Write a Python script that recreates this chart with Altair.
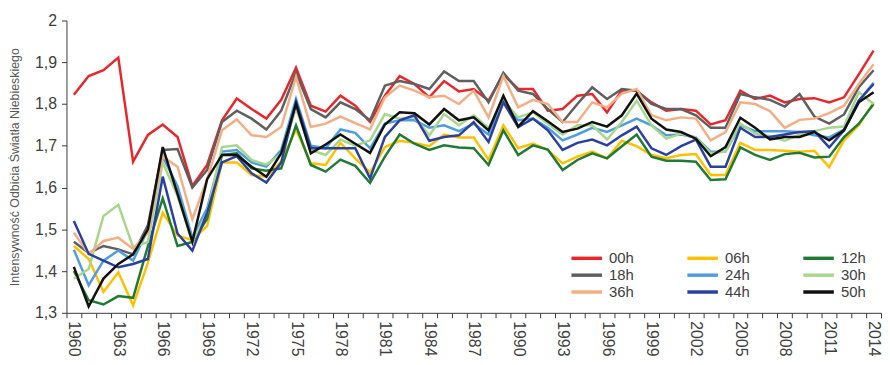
import altair as alt
import pandas as pd

years = list(range(1960, 2015))
series_names = ["00h", "06h", "12h", "18h", "24h", "30h", "36h", "44h", "50h"]
legend_order = ["00h", "18h", "36h", "06h", "24h", "44h", "12h", "30h", "50h"]
colors = ["#E8262B", "#FFC000", "#1F7A35", "#5F5F5F", "#4F9DE0",
          "#A8D68C", "#F4AE86", "#2A40A0", "#111111"]

s00 = [1.822, 1.867, 1.881, 1.911, 1.662, 1.726, 1.751, 1.721, 1.604, 1.654,
       1.761, 1.813, 1.788, 1.765, 1.81, 1.887, 1.796, 1.782, 1.82, 1.796,
       1.757, 1.82, 1.867, 1.848, 1.816, 1.855, 1.83, 1.836, 1.808, 1.871,
       1.836, 1.836, 1.784, 1.788, 1.82, 1.824, 1.78, 1.833, 1.832, 1.804,
       1.784, 1.788, 1.784, 1.751, 1.761, 1.832, 1.812, 1.82, 1.804, 1.812,
       1.814, 1.804, 1.816, 1.871, 1.928]
s06 = [1.46, 1.429, 1.35, 1.397, 1.318, 1.42, 1.54, 1.485, 1.474, 1.508,
       1.66, 1.66, 1.63, 1.626, 1.662, 1.739, 1.658, 1.654, 1.707, 1.67,
       1.636, 1.697, 1.712, 1.707, 1.699, 1.727, 1.72, 1.72, 1.666, 1.749,
       1.694, 1.705, 1.69, 1.658, 1.674, 1.686, 1.67, 1.712, 1.699, 1.678,
       1.67, 1.678, 1.68, 1.63, 1.63, 1.707, 1.69, 1.69, 1.688, 1.686,
       1.688, 1.649, 1.713, 1.749, 1.804]
s12 = [1.40, 1.33, 1.32, 1.34, 1.336, 1.46, 1.574, 1.46, 1.47, 1.525,
       1.678, 1.682, 1.646, 1.64, 1.646, 1.749, 1.654, 1.638, 1.667, 1.652,
       1.611, 1.674, 1.727, 1.705, 1.69, 1.701, 1.696, 1.694, 1.654, 1.737,
       1.678, 1.701, 1.691, 1.642, 1.666, 1.682, 1.67, 1.699, 1.727, 1.674,
       1.664, 1.664, 1.662, 1.618, 1.62, 1.696, 1.678, 1.666, 1.68, 1.683,
       1.672, 1.674, 1.721, 1.753, 1.80]
s18 = [1.47, 1.443, 1.46, 1.452, 1.44, 1.51, 1.69, 1.692, 1.60, 1.642,
       1.757, 1.784, 1.765, 1.739, 1.784, 1.875, 1.788, 1.768, 1.804, 1.788,
       1.761, 1.844, 1.855, 1.848, 1.836, 1.878, 1.855, 1.855, 1.804, 1.875,
       1.832, 1.824, 1.788, 1.757, 1.80, 1.84, 1.812, 1.836, 1.832, 1.80,
       1.788, 1.788, 1.773, 1.743, 1.743, 1.824, 1.816, 1.81, 1.794, 1.824,
       1.77, 1.753, 1.775, 1.84, 1.881]
s24 = [1.451, 1.366, 1.425, 1.449, 1.425, 1.50, 1.674, 1.603, 1.48, 1.55,
       1.686, 1.69, 1.66, 1.65, 1.69, 1.812, 1.70, 1.694, 1.739, 1.731,
       1.694, 1.753, 1.761, 1.761, 1.743, 1.749, 1.735, 1.753, 1.727, 1.808,
       1.761, 1.765, 1.743, 1.713, 1.727, 1.743, 1.733, 1.749, 1.765, 1.749,
       1.725, 1.727, 1.72, 1.686, 1.686, 1.749, 1.735, 1.735, 1.735, 1.733,
       1.725, 1.72, 1.739, 1.808, 1.851]
s30 = [1.382, 1.405, 1.532, 1.559, 1.457, 1.47, 1.66, 1.58, 1.47, 1.54,
       1.697, 1.701, 1.666, 1.655, 1.68, 1.79, 1.69, 1.678, 1.715, 1.70,
       1.713, 1.776, 1.765, 1.768, 1.725, 1.776, 1.749, 1.773, 1.743, 1.808,
       1.768, 1.78, 1.753, 1.727, 1.749, 1.749, 1.715, 1.757, 1.808, 1.749,
       1.717, 1.729, 1.72, 1.682, 1.686, 1.753, 1.729, 1.723, 1.712, 1.727,
       1.735, 1.743, 1.746, 1.828, 1.80]
s36 = [1.492, 1.441, 1.472, 1.48, 1.453, 1.492, 1.674, 1.65, 1.524, 1.62,
       1.737, 1.763, 1.725, 1.721, 1.745, 1.865, 1.745, 1.753, 1.77, 1.754,
       1.739, 1.816, 1.844, 1.832, 1.816, 1.82, 1.80, 1.832, 1.768, 1.867,
       1.792, 1.81, 1.80, 1.757, 1.757, 1.804, 1.792, 1.825, 1.836, 1.773,
       1.761, 1.768, 1.765, 1.713, 1.733, 1.804, 1.80, 1.783, 1.743, 1.762,
       1.765, 1.778, 1.796, 1.848, 1.895]
s44 = [1.52, 1.441, 1.425, 1.409, 1.417, 1.429, 1.626, 1.49, 1.449, 1.54,
       1.66, 1.675, 1.634, 1.612, 1.66, 1.805, 1.694, 1.694, 1.694, 1.694,
       1.622, 1.721, 1.761, 1.773, 1.712, 1.721, 1.725, 1.757, 1.709, 1.804,
       1.745, 1.765, 1.737, 1.69, 1.707, 1.715, 1.701, 1.725, 1.746, 1.694,
       1.678, 1.699, 1.715, 1.65, 1.65, 1.743, 1.721, 1.721, 1.727, 1.733,
       1.735, 1.696, 1.737, 1.808, 1.848]
s50 = [1.41, 1.315, 1.382, 1.417, 1.44, 1.50, 1.697, 1.585, 1.47, 1.62,
       1.678, 1.678, 1.65, 1.626, 1.682, 1.80, 1.682, 1.703, 1.727, 1.705,
       1.683, 1.751, 1.78, 1.778, 1.751, 1.788, 1.761, 1.768, 1.737, 1.82,
       1.746, 1.783, 1.759, 1.733, 1.741, 1.757, 1.746, 1.773, 1.825, 1.765,
       1.739, 1.733, 1.717, 1.675, 1.697, 1.767, 1.743, 1.715, 1.721, 1.721,
       1.733, 1.713, 1.737, 1.804, 1.828]

all_series = [s00, s06, s12, s18, s24, s30, s36, s44, s50]
y_ticks = [1.3, 1.4, 1.5, 1.6, 1.7, 1.8, 1.9, 2.0]
label_years = list(range(1960, 2015, 3))
boundaries = [1959.5 + i for i in range(56)]
x_values = sorted(boundaries + label_years)

rows = []
for name, vals in zip(series_names, all_series):
    for yr, v in zip(years, vals):
        rows.append({"year": yr, "value": v, "series": name})
df = pd.DataFrame(rows)

FONT = "Liberation Sans"
TXT = "#404040"
AX = "#3a3a3a"

chart = alt.Chart(df).mark_line(strokeWidth=2.5).encode(
    x=alt.X("year:Q",
            scale=alt.Scale(domain=[1959.5, 2014.5], nice=False, zero=False),
            axis=alt.Axis(values=x_values, title=None, grid=False,
                          labelExpr="datum.value % 1 == 0 ? toString(datum.value) : ''",
                          tickOpacity={"condition": {"test": "datum.value % 1 == 0", "value": 0}, "value": 1},
                          labelAngle=90, labelAlign="left", labelBaseline="middle",
                          tickSize=5, labelPadding=3, labelOverlap=False, labelFlush=False,
                          domainColor=AX, tickColor=AX, labelColor=TXT,
                          labelFont=FONT, labelFontSize=16)),
    y=alt.Y("value:Q",
            scale=alt.Scale(domain=[1.3, 2.0], nice=False, zero=False),
            axis=alt.Axis(values=y_ticks, grid=False,
                          title="Intensywność Odbicia Światła Niebieskiego",
                          labelExpr="datum.value >= 1.999 ? '2' : replace(format(datum.value, '.1f'), '.', ',')",
                          tickSize=5, labelPadding=5, labelOverlap=False, labelFlush=False,
                          domainColor=AX, tickColor=AX, labelColor=TXT,
                          labelFont=FONT, labelFontSize=16,
                          titleFont=FONT, titleFontSize=12.5, titleFontWeight="normal",
                          titleColor="#595959", titlePadding=13)),
    color=alt.Color("series:N",
                    scale=alt.Scale(domain=series_names, range=colors),
                    legend=alt.Legend(orient="none", legendX=516, legendY=231,
                                      values=legend_order,
                                      columns=3, symbolType="M-2.2,0H2.2", symbolSize=196,
                                      symbolStrokeWidth=3.5, labelFontSize=15,
                                      labelFont=FONT, labelColor=TXT, labelOffset=13.5,
                                      columnPadding=46, rowPadding=0, title=None,
                                      padding=0, gridAlign="all")),
).properties(
    width=822, height=295,
    autosize=alt.AutoSizeParams(type="none"),
    padding={"left": 59, "top": 11, "right": 1, "bottom": 46},
).configure_view(strokeWidth=0)

chart.save("out.html", embed_options={"renderer": "svg", "actions": False})
